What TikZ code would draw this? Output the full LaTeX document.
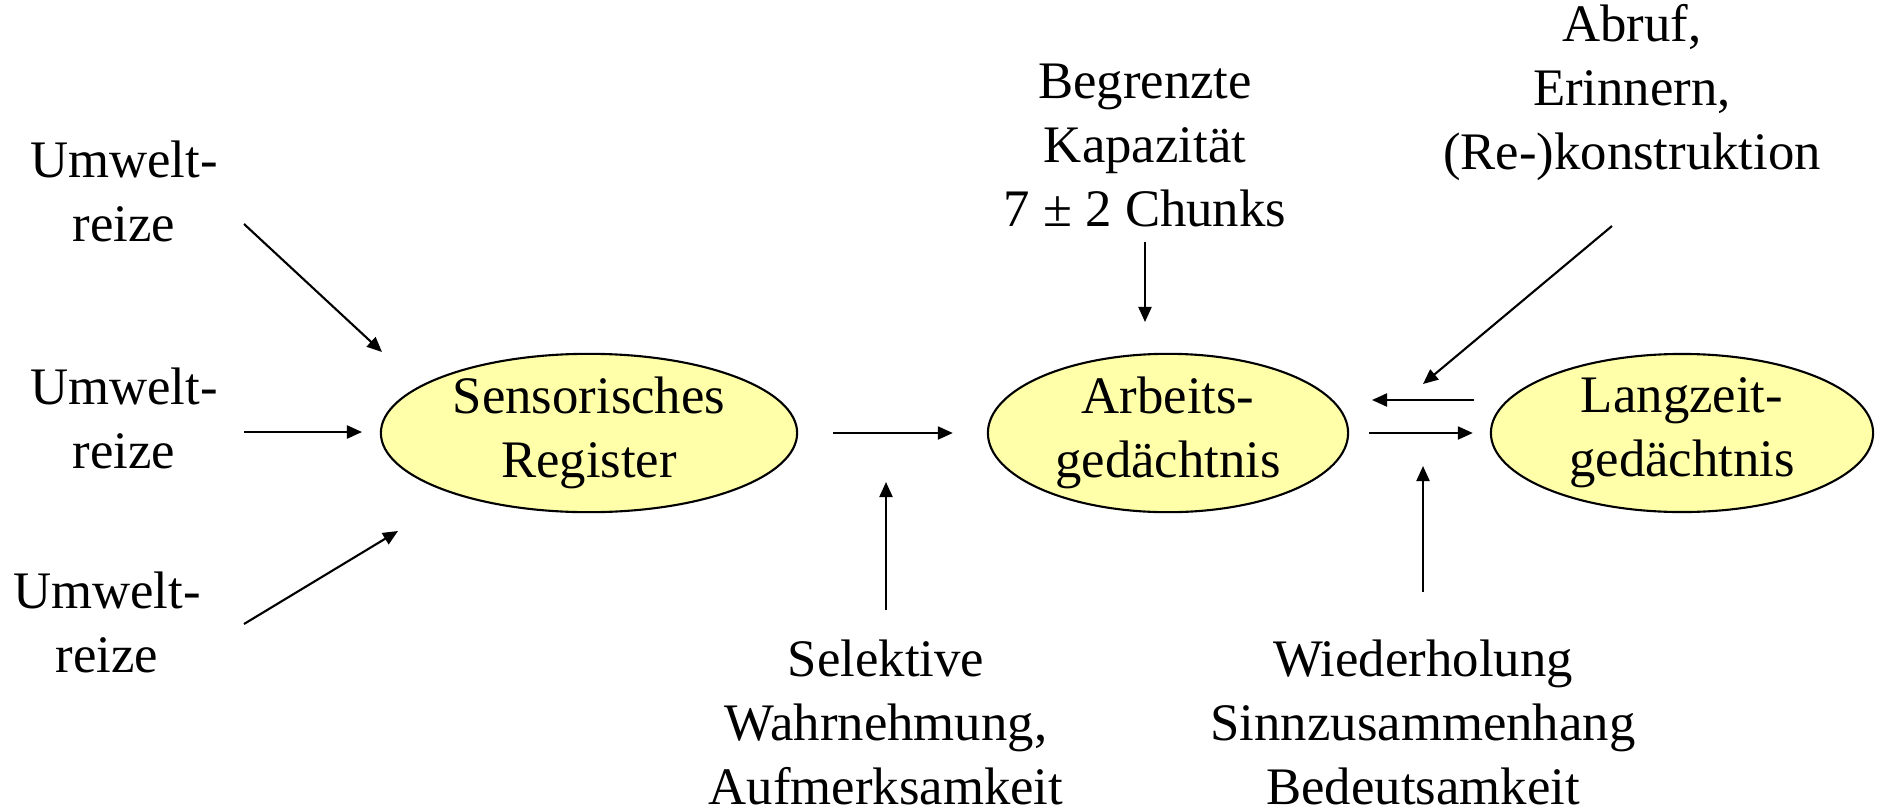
\documentclass[tikz,border=0pt]{standalone}
\usepackage{fontspec}
\setmainfont{Liberation Serif}
\usepackage{tikz}
\usetikzlibrary{arrows.meta,positioning,calc,shapes.geometric}
\usepackage{xcolor}
\definecolor{ink}{RGB}{0,0,0}
\definecolor{memfill}{RGB}{255,255,170}
\tikzset{
  mem/.style={ellipse,draw=ink,line width=0.6pt,fill=memfill,inner sep=0pt,
    font=\fontsize{15}{18.2}\selectfont,align=center},
  txt/.style={font=\fontsize{15}{18.2}\selectfont,align=center,inner sep=0pt},
  arr/.style={-{Triangle[length=0.15cm,width=0.13cm]},line width=0.6pt,ink},
}

\begin{document}
\begin{tikzpicture}[x=0.01cm,y=-0.01cm]
  \useasboundingbox (0,0) rectangle (1882,806);
  % stores
  \node[mem,minimum width=4.16cm,minimum height=1.58cm] (sr) at (589,433) {Sensorisches\\Register};
  \node[mem,minimum width=3.60cm,minimum height=1.58cm] (ag) at (1168,433) {Arbeits-\\gedächtnis};
  \node[mem,minimum width=3.82cm,minimum height=1.58cm] (lz) at (1682,433) {Langzeit-\\gedächtnis};
  % labels
  \node[txt] (u1) at (124,191) {Umwelt-\\reize};
  \node[txt] (u2) at (124,418) {Umwelt-\\reize};
  \node[txt] (u3) at (107,622) {Umwelt-\\reize};
  \node[txt] (kap) at (1145,145) {Begrenzte\\Kapazität\\7 ± 2 Chunks};
  \node[txt] (abr) at (1632,93) {Abruf,\\Erinnern,\\(Re-)konstruktion};
  \node[txt] (sel) at (886,722) {Selektive\\Wahrnehmung,\\Aufmerksamkeit};
  \node[txt] (wdh) at (1423,722) {Wiederholung\\Sinnzusammenhang\\Bedeutsamkeit};
  % arrow ends
  \coordinate (u1a) at (244,224);  \coordinate (u1b) at (382,352);
  \coordinate (u2a) at (244,432);  \coordinate (u2b) at (362,432);
  \coordinate (u3a) at (244,624);  \coordinate (u3b) at (398,531);
  \coordinate (sela) at (886,610); \coordinate (selb) at (886,482);
  \coordinate (kapa) at (1145,242); \coordinate (kapb) at (1145,322);
  \coordinate (abra) at (1612,226); \coordinate (abrb) at (1423,384);
  \coordinate (wdha) at (1423,592); \coordinate (wdhb) at (1423,466);
  \coordinate (ruka) at (1474,400); \coordinate (rukb) at (1372,400);
  % arrows
  \draw[arr] (u1a) -- (u1b);
  \draw[arr] (u2a) -- (u2b);
  \draw[arr] (u3a) -- (u3b);
  \draw[arr,shorten <=0.35cm,shorten >=0.34cm] (sr) -- (ag);
  \draw[arr] (sela) -- (selb);
  \draw[arr] (kapa) -- (kapb);
  \draw[arr] (abra) -- (abrb);
  \draw[arr] (ruka) -- (rukb);
  \draw[arr,shorten <=0.20cm,shorten >=0.17cm] (ag) -- (lz);
  \draw[arr] (wdha) -- (wdhb);
\end{tikzpicture}
\end{document}
